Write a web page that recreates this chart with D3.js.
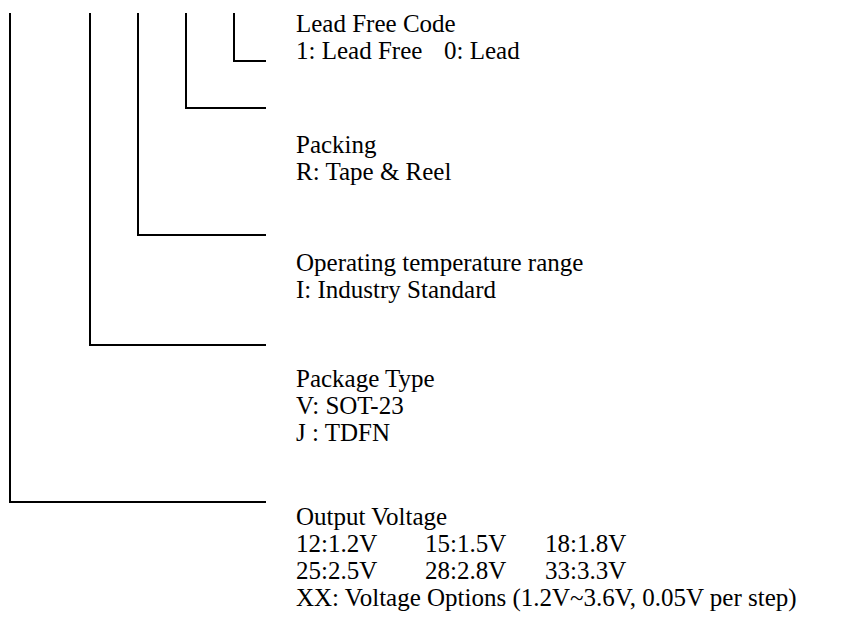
<!DOCTYPE html>
<html lang="en">
<head>
    <meta charset="UTF-8">
    <script src="https://d3js.org/d3.v7.min.js"></script>
    <title>index</title>
    <style>
        body { margin: 0; background: #fff; }
        text { font-family: "Liberation Serif", "Times New Roman", serif; font-size: 25px; fill: #000; }
        path { fill: none; stroke: #000; stroke-width: 2; }
    </style>
</head>
<body>
    <div id="chart"></div>

    <script>
        // fields of the part number, right-most code first
        var fieldNames = ['Lead Free Code', 'Packing', 'Operating temperature range', 'Package Type', 'Output Voltage'];
        var legColumn = [14, 11, 8, 5, 0];       // which code position the leg drops from
        var elbowRow = [61, 108, 235, 345, 502]; // where the leg turns right
        var titleRow = [32, 153, 271, 387, 525]; // baseline of the field name

        // option rows under each name, cells split by column
        var leadFreeOptions = [['1: Lead Free', '0: Lead']];
        var packingOptions = [['R: Tape & Reel']];
        var tempOptions = [['I: Industry Standard']];
        var packageOptions = [['V: SOT-23'], ['J : TDFN']];
        var voltageOptions = [
            ['12:1.2V', '15:1.5V', '18:1.8V'],
            ['25:2.5V', '28:2.8V', '33:3.3V'],
            ['XX: Voltage Options (1.2V~3.6V, 0.05V per step)']
        ];
        var fieldOptions = [leadFreeOptions, packingOptions, tempOptions, packageOptions, voltageOptions];

        var width = 860;
        var height = 619;
        var lineGap = 27;
        var textLeft = 296;
        var cellOffsets = [0, 129, 249];
        var leadCellOffsets = [0, 148];

        var x = d3.scaleLinear().domain([0, 16]).range([10, 266]);
        var y = d3.scaleLinear().domain([0, height]).range([0, height]);

        var svg = d3.select('#chart')
            .append('svg')
                .attr('width', width)
                .attr('height', height);

        var fields = fieldNames.map(function(name, i) {
            return { name: name, col: legColumn[i], elbow: elbowRow[i], title: titleRow[i], options: fieldOptions[i], idx: i };
        });

        // the legs
        svg.selectAll('path.leg')
            .data(fields)
            .enter()
            .append('path')
                .attr('class', 'leg')
                .attr('d', function(d) {
                    return 'M' + x(d.col) + ',' + y(13) + 'V' + y(d.elbow) + 'H' + x(16);
                });

        var group = svg.selectAll('g.field')
            .data(fields)
            .enter()
            .append('g')
                .attr('class', 'field');

        group.append('text')
            .attr('x', textLeft)
            .attr('y', function(d) { return y(d.title); })
            .text(function(d) { return d.name; });

        group.each(function(d) {
            var g = d3.select(this);
            var offsets = d.idx === 0 ? leadCellOffsets : cellOffsets;
            d.options.forEach(function(row, r) {
                row.forEach(function(cell, c) {
                    g.append('text')
                        .attr('x', textLeft + offsets[c])
                        .attr('y', y(d.title + (r + 1) * lineGap))
                        .text(cell);
                });
            });
        });
    </script>
</body>
</html>
